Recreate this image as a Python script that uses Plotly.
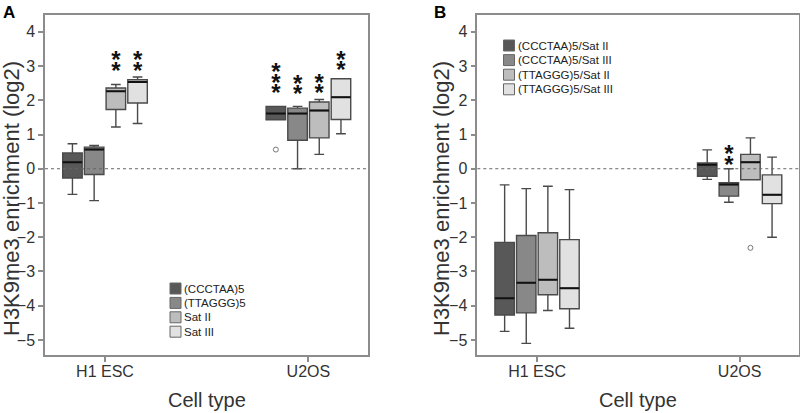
import plotly.graph_objects as go

# ---- data ----
cell_types = ["H1 ESC", "U2OS"]
fills = ["#585858", "#888888", "#bdbdbd", "#e1e1e1"]

# panel A, one list per series, values for [H1 ESC, U2OS]
series_a = ["(CCCTAA)5", "(TTAGGG)5", "Sat II", "Sat III"]
a_upper = [[0.73, 1.82], [0.68, 1.82], [2.46, 2.02], [2.68, 2.63]]
a_q3 = [[0.46, 1.82], [0.63, 1.77], [2.36, 1.95], [2.60, 2.63]]
a_median = [[0.19, 1.61], [0.56, 1.61], [2.26, 1.70], [2.53, 2.09]]
a_q1 = [[-0.27, 1.43], [-0.17, 0.83], [1.73, 0.90], [1.92, 1.44]]
a_lower = [[-0.75, 1.43], [-0.93, 0.00], [1.22, 0.42], [1.32, 1.02]]
a_outliers = [[None, 0.56], [None, None], [None, None], [None, None]]
a_stars = [[0, 3], [0, 2], [2, 2], [2, 2]]
a_star_level = [[None, 2.27], [None, 2.24], [2.92, 2.26], [2.92, 2.94]]

# panel B
series_b = ["(CCCTAA)5/Sat II", "(CCCTAA)5/Sat III", "(TTAGGG)5/Sat II", "(TTAGGG)5/Sat III"]
b_upper = [[-0.47, 0.55], [-0.58, 0.00], [-0.51, 0.90], [-0.61, 0.34]]
b_q3 = [[-2.15, 0.17], [-1.95, -0.41], [-1.87, 0.42], [-2.07, -0.18]]
b_median = [[-3.78, 0.12], [-3.33, -0.46], [-3.24, 0.19], [-3.49, -0.76]]
b_q1 = [[-4.27, -0.22], [-4.21, -0.80], [-3.68, -0.32], [-4.09, -1.02]]
b_lower = [[-4.75, -0.31], [-5.10, -0.98], [-4.14, -0.32], [-4.66, -2.00]]
b_outliers = [[None, None], [None, None], [None, -2.31], [None, None]]
b_stars = [[0, 0], [0, 2], [0, 0], [0, 0]]
b_star_level = [[None, None], [None, 0.175], [None, None], [None, None]]

# ---- layout helpers ----
W, H = 800, 413
SLOT = 0.1067     # distance between neighbouring boxes (x units)
BOX_W = 0.096
STAR_STEP = 0.31
STAR_DY = -0.12   # the '*' glyph sits high in its line box
FONT = "Arial, Liberation Sans, sans-serif"


def px(x):
    return x / W


def py(y):
    return 1 - y / H


fig = go.Figure()


def add_panel(xa, ya, upper, q3, med, q1, lower, outliers, stars, star_level):
    '''Boxes, medians, outliers and significance stars of one panel.'''
    xref = 'x' if xa == 1 else 'x%d' % xa
    yref = 'y' if ya == 1 else 'y%d' % ya
    star_x, star_y = [], []
    out_x, out_y = [], []
    for i in range(4):
        pos = [c + (i - 1.5) * SLOT for c in range(len(cell_types))]
        fig.add_trace(go.Box(
            x=pos, q1=q1[i], median=med[i], q3=q3[i],
            lowerfence=lower[i], upperfence=upper[i],
            width=BOX_W, whiskerwidth=0.5, boxpoints=False,
            fillcolor=fills[i], line=dict(color='#4a4a4a', width=1.4),
            xaxis=xref, yaxis=yref, showlegend=False, hoverinfo='skip'))
        # black median line drawn on top
        fig.add_trace(go.Box(
            x=pos, q1=med[i], median=med[i], q3=med[i],
            lowerfence=med[i], upperfence=med[i],
            width=BOX_W, whiskerwidth=0, boxpoints=False,
            fillcolor='rgba(0,0,0,0)', line=dict(color='#111111', width=2),
            xaxis=xref, yaxis=yref, showlegend=False, hoverinfo='skip'))
        for c in range(len(cell_types)):
            if outliers[i][c] is not None:
                out_x.append(pos[c])
                out_y.append(outliers[i][c])
            for k in range(stars[i][c]):
                star_x.append(pos[c])
                star_y.append(star_level[i][c] + k * STAR_STEP + STAR_DY)
    fig.add_trace(go.Scatter(
        x=out_x, y=out_y, mode='markers',
        marker=dict(symbol='circle-open', size=5, color='#777777', line=dict(width=1)),
        xaxis=xref, yaxis=yref, showlegend=False, hoverinfo='skip'))
    fig.add_trace(go.Scatter(
        x=star_x, y=star_y, mode='text', text=['*'] * len(star_x),
        textposition='middle center',
        textfont=dict(family=FONT, size=24, color='#111111', weight='bold'),
        xaxis=xref, yaxis=yref, showlegend=False, hoverinfo='skip'))
    # dotted zero line
    fig.add_shape(type='line', xref=xref + ' domain', yref=yref,
                  x0=0, x1=1, y0=0, y1=0,
                  line=dict(color='#666666', width=1, dash='dot'))


add_panel(1, 1, a_upper, a_q3, a_median, a_q1, a_lower, a_outliers, a_stars, a_star_level)
add_panel(2, 2, b_upper, b_q3, b_median, b_q1, b_lower, b_outliers, b_stars, b_star_level)


def add_legend(names, x_left, y_first, step):
    '''Small square legend like the original (drawn by hand for tight spacing).'''
    for i, name in enumerate(names):
        yc = y_first + i * step
        fig.add_shape(type='rect', xref='paper', yref='paper',
                      x0=px(x_left), x1=px(x_left + 11),
                      y0=py(yc + 5.5), y1=py(yc - 5.5),
                      fillcolor=fills[i], line=dict(color='#666666', width=1))
        fig.add_annotation(text=name, xref='paper', yref='paper',
                           x=px(x_left + 12), y=py(yc), xanchor='left', yanchor='middle',
                           showarrow=False, font=dict(family=FONT, size=11.5, color='#222222'))


add_legend(series_a, 170, 288.5, 14.4)
add_legend(series_b, 503.5, 45.5, 14.6)

axis_common = dict(showline=True, mirror=True, linecolor='#8c8c8c', linewidth=1.5,
                   ticks='outside', ticklen=5, tickcolor='#8c8c8c', tickwidth=1.5,
                   showgrid=False, zeroline=False, fixedrange=True,
                   tickfont=dict(family=FONT, size=16, color='#333333'))
xcommon = dict(axis_common, range=[-0.295, 1.293], tickvals=[0, 1], ticktext=cell_types,
               ticklabelstandoff=-4)
ycommon = dict(axis_common, range=[-5.44, 4.49], tickvals=list(range(-5, 5)),
               domain=[py(355), py(15)])

fig.update_layout(
    width=W, height=H,
    margin=dict(l=0, r=0, t=0, b=0),
    paper_bgcolor='white', plot_bgcolor='white',
    boxmode='overlay',
    font=dict(family=FONT, color='#333333'),
    xaxis=dict(xcommon, domain=[px(45), px(368)], anchor='y'),
    yaxis=dict(ycommon, anchor='x'),
    xaxis2=dict(xcommon, domain=[px(477.3), px(799)], anchor='y2'),
    yaxis2=dict(ycommon, anchor='x2'),
)

# axis titles and panel letters
for xc, yt_x, letter, lx in [(206.5, 12, 'A', 9), (638, 442, 'B', 440)]:
    fig.add_annotation(text='Cell type', xref='paper', yref='paper',
                       x=px(xc), y=py(400), xanchor='center', yanchor='middle',
                       showarrow=False, font=dict(family=FONT, size=20, color='#333333'))
    fig.add_annotation(text='H3K9me3 enrichment (log2)', xref='paper', yref='paper',
                       x=px(yt_x), y=py(199), xanchor='center', yanchor='middle',
                       textangle=-90, showarrow=False,
                       font=dict(family=FONT, size=22, color='#333333'))
    fig.add_annotation(text='<b>%s</b>' % letter, xref='paper', yref='paper',
                       x=px(lx), y=py(12.5), xanchor='center', yanchor='middle',
                       showarrow=False, font=dict(family=FONT, size=17, color='#000000'))

# the page body has a default margin; remove it so the figure sits at the corner
fig.write_html("out.html", config={'displayModeBar': False},
               post_script="document.body.style.margin='0px';")
